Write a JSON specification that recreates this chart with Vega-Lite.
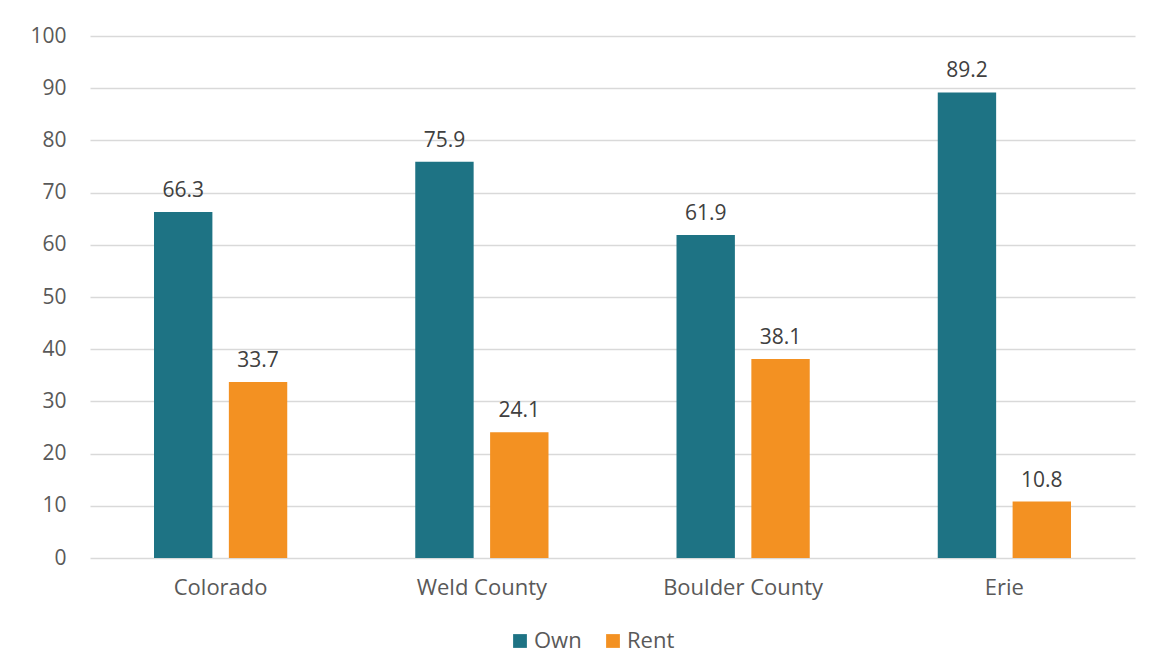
{
  "$schema": "https://vega.github.io/schema/vega-lite/v6.json",
  "autosize": "none",
  "width": 1045,
  "height": 522,
  "padding": {"left": 90, "top": 36, "right": 14, "bottom": 114},
  "background": "white",
  "config": {
    "font": "Open Sans",
    "view": {"stroke": null},
    "axis": {"labelFont": "Open Sans", "labelColor": "#595959", "labelFontSize": 21, "titleFont": "Open Sans"},
    "legend": {"labelFont": "Open Sans"},
    "text": {"font": "Open Sans"}
  },
  "data": {
    "values": [
      {"place": "Colorado", "tenure": "Own", "value": 66.3},
      {"place": "Colorado", "tenure": "Rent", "value": 33.7},
      {"place": "Weld County", "tenure": "Own", "value": 75.9},
      {"place": "Weld County", "tenure": "Rent", "value": 24.1},
      {"place": "Boulder County", "tenure": "Own", "value": 61.9},
      {"place": "Boulder County", "tenure": "Rent", "value": 38.1},
      {"place": "Erie", "tenure": "Own", "value": 89.2},
      {"place": "Erie", "tenure": "Rent", "value": 10.8}
    ]
  },
  "encoding": {
    "x": {
      "field": "place", "type": "nominal", "sort": null, "title": null,
      "scale": {"paddingInner": 0.49, "paddingOuter": 0.245},
      "axis": {"labelAngle": 0, "domain": false, "ticks": false, "labelPadding": 19, "labelFontSize": 22}
    },
    "xOffset": {"field": "tenure", "type": "nominal", "scale": {"paddingInner": 0.22, "paddingOuter": 0}},
    "y": {
      "field": "value", "type": "quantitative", "title": null,
      "scale": {"domain": [0, 100], "nice": false},
      "axis": {
        "values": [0, 10, 20, 30, 40, 50, 60, 70, 80, 90, 100],
        "domain": false, "ticks": false, "labelPadding": 24,
        "gridColor": "#d9d9d9", "gridWidth": 1.5
      }
    }
  },
  "layer": [
    {
      "mark": {"type": "bar"},
      "encoding": {
        "color": {
          "field": "tenure", "type": "nominal", "title": null,
          "scale": {"domain": ["Own", "Rent"], "range": ["#1E7384", "#F39122"]},
          "legend": {
            "orient": "none", "direction": "horizontal",
            "legendX": 419, "legendY": 594,
            "symbolType": "square", "symbolSize": 190, "symbolStrokeWidth": 0,
            "labelFontSize": 22, "labelColor": "#595959", "columnPadding": 20, "labelOffset": 3
          }
        }
      }
    },
    {
      "mark": {"type": "text", "dy": -15, "baseline": "alphabetic", "align": "center", "fontSize": 21, "color": "#404040"},
      "encoding": {"text": {"field": "value", "type": "quantitative", "format": ".1f"}}
    }
  ]
}
